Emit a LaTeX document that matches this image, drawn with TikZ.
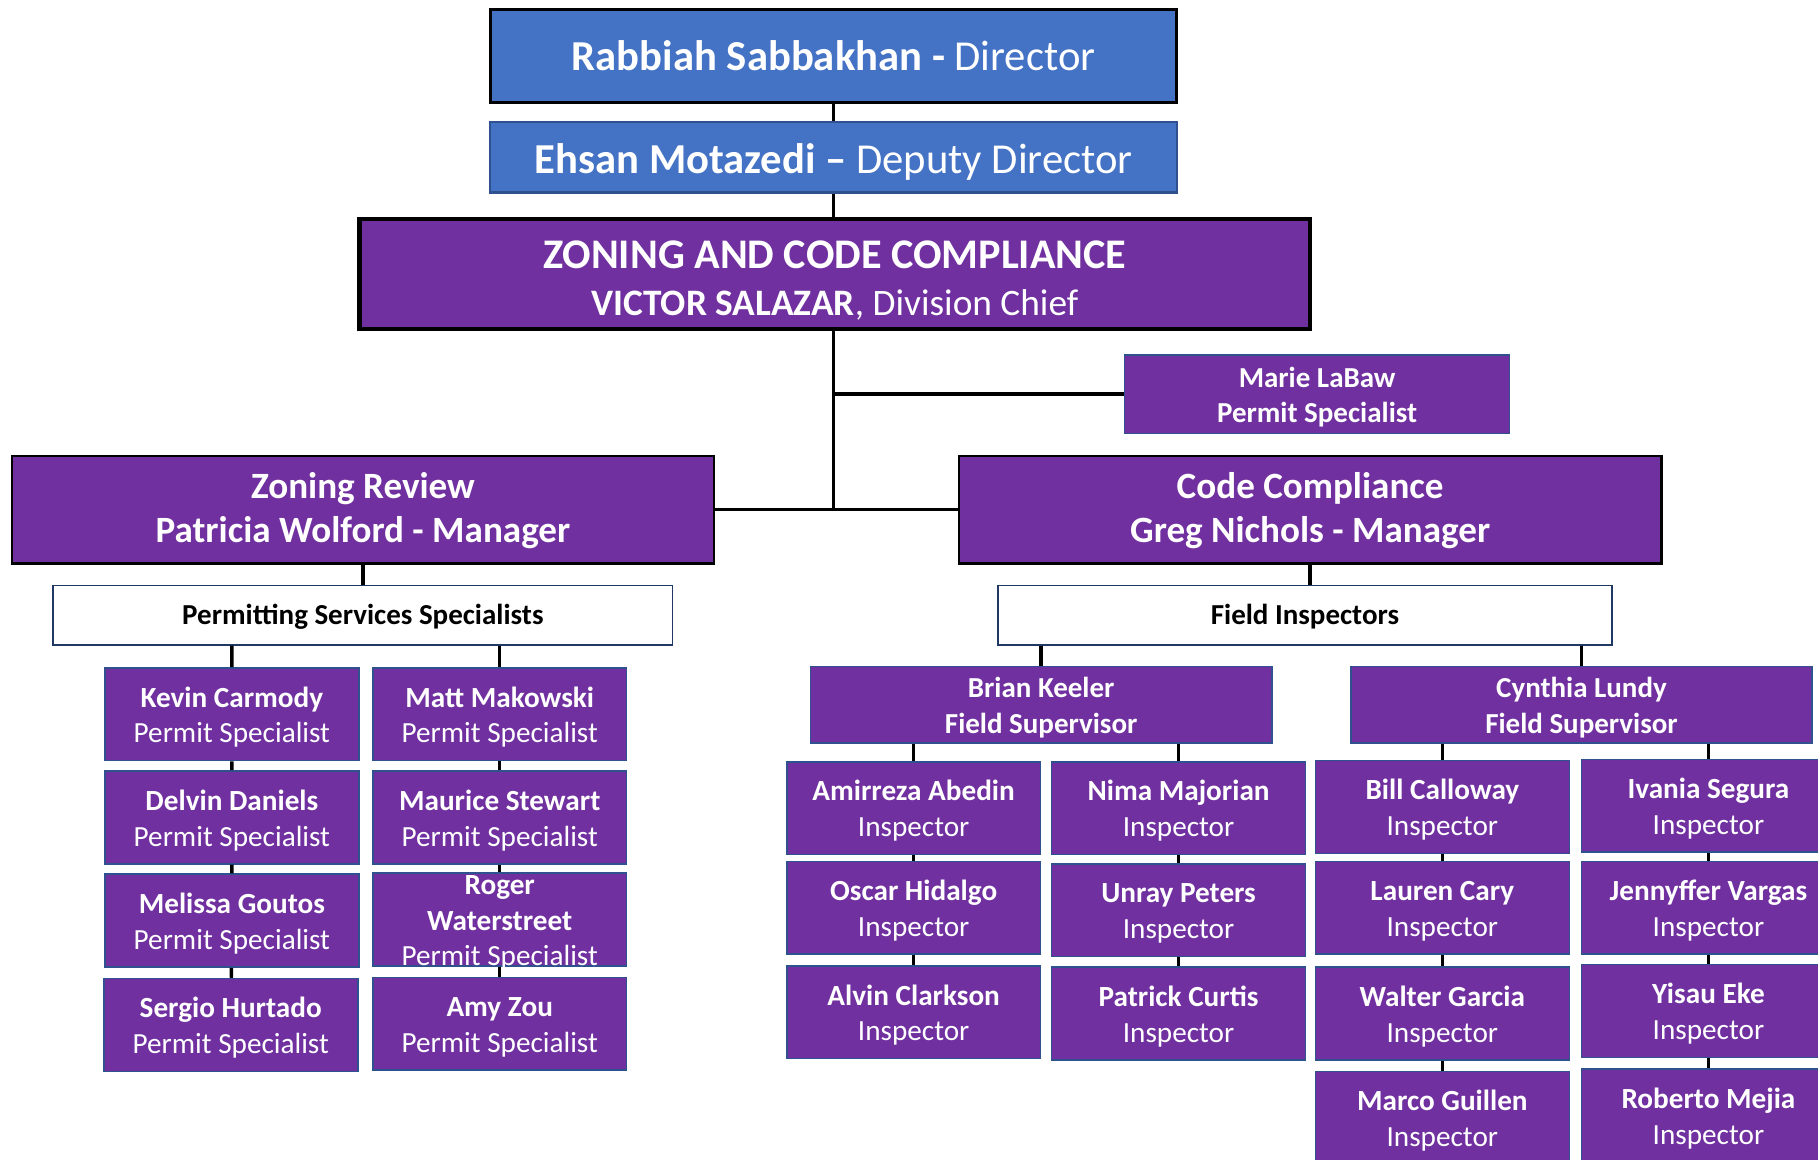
\documentclass[tikz,border=0pt]{standalone}
\usepackage{fontspec}
\setmainfont{Carlito}
\definecolor{ZCCPurple}{HTML}{7030A0}
\definecolor{ZCCBlue}{HTML}{4472C4}
\definecolor{ZCCEdge}{HTML}{2F528F}
\definecolor{ZCCNavy}{HTML}{1F3864}

\begin{document}
\begin{tikzpicture}[x=0.5pt, y=-0.5pt,
    main/.style = {draw, rectangle, inner sep=0pt, align=center, text=white},
    lower/.style = {execute at begin node={\rule[-4pt]{0pt}{#1}}},
    chief/.style = {main, fill=ZCCBlue, minimum width=296pt, font=\fontsize{18.4}{22}\selectfont},
    mgr/.style = {main, lower=36.7pt, fill=ZCCPurple, line width=0.9pt, minimum width=303pt, minimum height=46.5pt, font=\fontsize{16}{19}\selectfont\bfseries},
    team/.style = {main, lower=16.5pt, draw=ZCCNavy, line width=0.8pt, fill=white, text=black, minimum height=25.5pt, font=\fontsize{12.5}{15.5}\selectfont\bfseries},
    staff/.style = {main, lower=32.8pt, draw=ZCCEdge, line width=0.7pt, fill=ZCCPurple, minimum width=109.5pt, minimum height=40pt, font=\fontsize{12.6}{15.5}\selectfont},
    link/.style = {line width=1.5pt}]
      \useasboundingbox (0,0) rectangle (1568,1000);
      \clip (0,0) rectangle (1568,1000);
      % top of the division
      \node[chief, line width=1.3pt, minimum height=40pt] (0) at (719,48) {\textbf{Rabbiah Sabbakhan -} Director};
      \node[chief, lower=22.4pt, draw=ZCCEdge, line width=0.9pt, minimum height=30.5pt] (1) at (719,135.5) {\textbf{Ehsan Motazedi --} Deputy Director};
      \node[main, lower=43.2pt, fill=ZCCPurple, line width=1.9pt, minimum width=410pt, minimum height=47.5pt, font=\fontsize{18.2}{20}\selectfont] (2) at (720,236.5) {\textbf{ZONING AND CODE COMPLIANCE}\\{\fontsize{16.1}{20}\selectfont\textbf{VICTOR SALAZAR}, Division Chief}};
      \node[staff, minimum width=166pt, minimum height=34pt, font=\fontsize{12.5}{15.5}\selectfont\bfseries] (3) at (1136,340) {Marie LaBaw\\Permit Specialist};
      \node[mgr] (4) at (313,439.5) {Zoning Review\\Patricia Wolford - Manager};
      \node[mgr] (5) at (1130,439.5) {Code Compliance\\Greg Nichols - Manager};
      \node[team, minimum width=267pt] (6) at (313,530.5) {Permitting Services Specialists};
      \node[team, minimum width=264.5pt] (7) at (1125.5,530.5) {Field Inspectors};
      % permit specialists
      \node[staff] (8) at (200,616) {\textbf{Kevin Carmody}\\Permit Specialist};
      \node[staff] (9) at (200,705) {\textbf{Delvin Daniels}\\Permit Specialist};
      \node[staff] (10) at (200,794) {\textbf{Melissa Goutos}\\Permit Specialist};
      \node[staff] (11) at (199,884) {\textbf{Sergio Hurtado}\\Permit Specialist};
      \node[staff] (12) at (431,616) {\textbf{Matt Makowski}\\Permit Specialist};
      \node[staff] (13) at (431,705) {\textbf{Maurice Stewart}\\Permit Specialist};
      \node[staff] (14) at (431,793) {\smash{\raisebox{7.9pt}{\parbox[c]{100pt}{\centering\textbf{Roger}\\\textbf{Waterstreet}\\Permit Specialist}}}};
      \node[staff] (15) at (431,883) {\textbf{Amy Zou}\\Permit Specialist};
      % field supervisors
      \node[staff, minimum width=199pt, minimum height=33pt, font=\fontsize{12.5}{15.5}\selectfont\bfseries] (16) at (898,608) {Brian Keeler\\Field Supervisor};
      \node[staff, minimum width=199pt, minimum height=33pt, font=\fontsize{12.5}{15.5}\selectfont\bfseries] (17) at (1364,608) {Cynthia Lundy\\Field Supervisor};
      % inspectors
      \node[staff] (18) at (788,697) {\textbf{Amirreza Abedin}\\Inspector};
      \node[staff] (19) at (788,783) {\textbf{Oscar Hidalgo}\\Inspector};
      \node[staff] (20) at (788,873) {\textbf{Alvin Clarkson}\\Inspector};
      \node[staff] (21) at (1016.5,697) {\textbf{Nima Majorian}\\Inspector};
      \node[staff] (22) at (1016.5,785) {\textbf{Unray Peters}\\Inspector};
      \node[staff] (23) at (1016.5,874) {\textbf{Patrick Curtis}\\Inspector};
      \node[staff] (24) at (1244,696) {\textbf{Bill Calloway}\\Inspector};
      \node[staff] (25) at (1244,783) {\textbf{Lauren Cary}\\Inspector};
      \node[staff] (26) at (1244,874) {\textbf{Walter Garcia}\\Inspector};
      \node[staff] (27) at (1244,964) {\textbf{Marco Guillen}\\Inspector};
      \node[staff] (28) at (1473.5,695) {\textbf{Ivania Segura}\\Inspector};
      \node[staff] (29) at (1473.5,783) {\textbf{Jennyffer Vargas}\\Inspector};
      \node[staff] (30) at (1473.5,872) {\textbf{Yisau Eke}\\Inspector};
      \node[staff] (31) at (1473.5,962) {\textbf{Roberto Mejia}\\Inspector};
      % lines
      \draw[link] (0) -- (0 |- 1.north);
      \draw[link] (1) -- (1 |- 2.north);
      \draw[link] (1 |- 2.south) -- (1 |- 4.east) (4) -- (5);
      \draw[link] (1 |- 3.west) -- (3);
      \draw[link] (4) -- (6);
      \draw[link] (5.south) -- (5.south |- 7.north);
      \draw[link] (6.south -| 8) -- (8) (8) -- (9) (9) -- (10) (10) -- (11);
      \draw[link] (6.south -| 12) -- (12) (12) -- (13) (13) -- (14) (14) -- (15);
      \draw[link] (7.south -| 16) -- (16);
      \draw[link] (7.south -| 17) -- (17);
      \draw[link] (16.south -| 18) -- (18) (18) -- (19) (19) -- (20);
      \draw[link] (16.south -| 21) -- (21) (21) -- (22) (22) -- (23);
      \draw[link] (17.south -| 24) -- (24) (24) -- (25) (25) -- (26) (26) -- (27);
      \draw[link] (17.south -| 28) -- (28) (28) -- (29) (29) -- (30) (30) -- (31);
    \end{tikzpicture}
\end{document}
